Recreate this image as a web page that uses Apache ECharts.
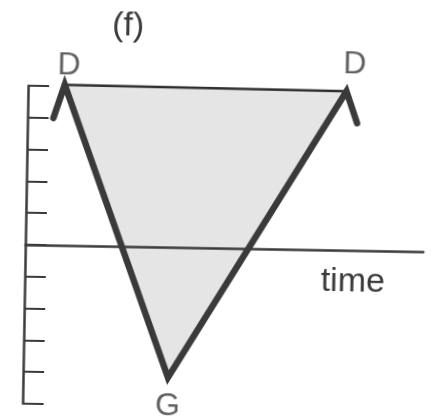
<!DOCTYPE html>
<html>
<head>
<meta charset="utf-8">
<script src="https://cdn.jsdelivr.net/npm/echarts@6/dist/echarts.min.js"></script>
<style>
  html, body { margin: 0; padding: 0; background: #fff; }
  /* the scanned figure sits about one degree clockwise */
  #chart { width: 432px; height: 418px; transform: rotate(1deg); transform-origin: 50% 50%; }
</style>
</head>
<body>
<div id="chart"></div>
<script>
// thick trace: hook, D, G, D, hook
const pathX = [0.65, 0.92, 3.64, 8.0, 8.28];
const pathY = [4.0, 5.05, -4.1, 5.0, 4.0];
// labelled vertices
const vertexNames = ['D', 'G', 'D'];
const vertexX = [0.92, 3.64, 8.0];
const vertexY = [5.05, -4.1, 5.0];
const yMin = -5, yMax = 5, yStep = 1;
const xMin = 0, xMax = 10;

const font = 'Liberation Sans, Arial, sans-serif';
const ink = '#3a3a3a';

const chart = echarts.init(document.getElementById('chart'));

const labelPlace = [
  { position: 'top', offset: [4, -3] },
  { position: 'bottom', offset: [0, 12] },
  { position: 'top', offset: [8, -10] }
];

const option = {
  animation: false,
  title: {
    text: '(f)',
    left: 109, top: 11, padding: 0,
    textStyle: { fontFamily: font, fontSize: 34, fontWeight: 'normal', color: ink }
  },
  grid: { left: 26, right: 8, top: 89, bottom: 11, containLabel: false },
  xAxis: {
    type: 'value', min: xMin, max: xMax, z: 3,
    name: 'time', nameLocation: 'end', nameGap: -70,
    nameTextStyle: { fontFamily: font, fontSize: 34, color: ink, align: 'center', verticalAlign: 'top', lineHeight: 64 },
    axisLine: { onZero: true, lineStyle: { color: ink, width: 2.5 } },
    axisTick: { show: false }, axisLabel: { show: false }, splitLine: { show: false }
  },
  yAxis: {
    type: 'value', min: yMin, max: yMax, interval: yStep,
    axisLine: { show: true, onZero: false, lineStyle: { color: ink, width: 2.5 } },
    axisTick: { show: true, inside: true, length: 21, lineStyle: { color: ink, width: 2 } },
    axisLabel: { show: false }, splitLine: { show: false }
  },
  series: [
    {
      // shaded triangle D-G-D
      type: 'custom', z: 1, silent: true, clip: false,
      data: vertexX.map((x, i) => [x, vertexY[i]]),
      renderItem: function (params, api) {
        if (params.dataIndex !== 0) return null;
        const pts = vertexX.map((x, i) => api.coord([x, vertexY[i]]));
        return { type: 'polygon', shape: { points: pts }, style: { fill: '#e5e5e5' } };
      }
    },
    {
      // thin top edge D-D
      type: 'line', z: 2, symbol: 'none', silent: true, clip: false,
      data: [[vertexX[0], vertexY[0]], [vertexX[2], vertexY[2]]],
      lineStyle: { color: '#2e2e2e', width: 2.5 }
    },
    {
      type: 'line', z: 4, symbol: 'none', silent: true, clip: false,
      data: pathX.map((x, i) => [x, pathY[i]]),
      lineStyle: { color: ink, width: 6.5, join: 'miter', cap: 'round' }
    },
    {
      // vertex letters; the tiny marks sit under the thick trace
      type: 'scatter', z: 3, silent: true, clip: false, symbolSize: 1,
      itemStyle: { color: ink },
      data: vertexX.map((x, i) => ({
        value: [x, vertexY[i]],
        name: vertexNames[i],
        label: labelPlace[i]
      })),
      label: {
        show: true, distance: 0, formatter: '{b}',
        fontFamily: font, fontSize: 32, color: ink
      }
    }
  ]
};

chart.setOption(option);
</script>
</body>
</html>
